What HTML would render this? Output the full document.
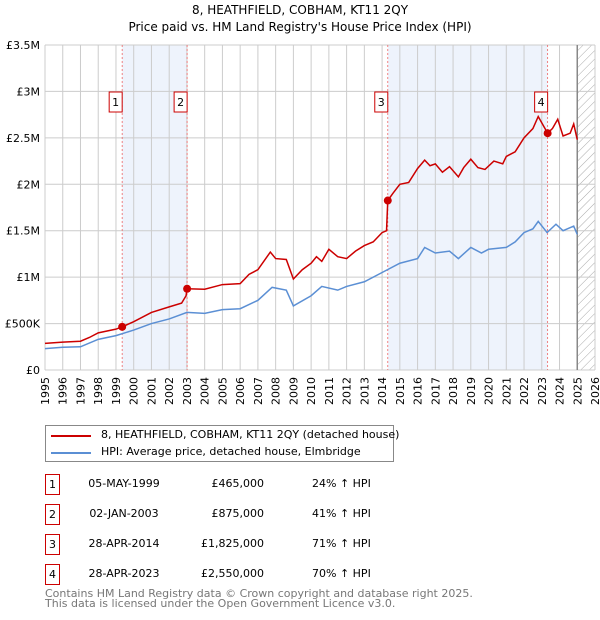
<!DOCTYPE html>
<html><head><meta charset="utf-8"><style>
body{margin:0;width:600px;height:620px;background:#fff;font-family:"DejaVu Sans","Liberation Sans",sans-serif;overflow:hidden;position:relative}
.t{position:absolute;font-size:11px;color:#000;white-space:nowrap}
.box{position:absolute;width:13px;height:19px;border:1px solid #c00;font-size:11px;text-align:center;line-height:19px;background:#fff}
</style></head><body>
<svg id="chart" width="600" height="420" style="position:absolute;left:0;top:0" font-family="DejaVu Sans, Liberation Sans, sans-serif">
<text x="300" y="14" text-anchor="middle" font-size="12">8, HEATHFIELD, COBHAM, KT11 2QY</text>
<text x="300" y="31" text-anchor="middle" font-size="12">Price paid vs. HM Land Registry's House Price Index (HPI)</text>
<g id="g"></g>
</svg>
<div style="position:absolute;left:45px;top:425px;width:347px;height:35px;border:1px solid #888;">
<div style="position:absolute;left:5px;top:9px;width:40px;height:2px;background:#c00"></div>
<div class="t" style="left:55px;top:2px">8, HEATHFIELD, COBHAM, KT11 2QY (detached house)</div>
<div style="position:absolute;left:5px;top:26px;width:40px;height:2px;background:#5b8fd4"></div>
<div class="t" style="left:55px;top:19px">HPI: Average price, detached house, Elmbridge</div>
</div>
<div id="tbl"></div>
<div class="t" style="left:45px;top:589px;color:#777;font-size:11px;line-height:10px">Contains HM Land Registry data © Crown copyright and database right 2025.<br>This data is licensed under the Open Government Licence v3.0.</div>
<script>
const redT=[1995,1996,1997,1997.5,1998,1999,1999.35,2000,2001,2002,2002.7,2002.95,2003.01,2004,2005,2006,2006.5,2007,2007.7,2008,2008.6,2009,2009.5,2010,2010.3,2010.6,2011,2011.5,2012,2012.5,2013,2013.5,2014,2014.25,2014.32,2014.6,2015,2015.5,2016,2016.4,2016.7,2017,2017.4,2017.8,2018.3,2018.6,2019,2019.4,2019.8,2020.3,2020.8,2021,2021.5,2022,2022.5,2022.8,2023.33,2023.6,2023.9,2024.2,2024.6,2024.8,2025];
const redV=[0.287,0.30,0.31,0.35,0.40,0.44,0.465,0.52,0.62,0.68,0.72,0.80,0.875,0.87,0.92,0.93,1.03,1.08,1.27,1.20,1.19,0.98,1.08,1.15,1.22,1.17,1.30,1.22,1.20,1.28,1.34,1.38,1.48,1.50,1.825,1.90,2.00,2.02,2.17,2.26,2.20,2.22,2.13,2.19,2.08,2.18,2.27,2.18,2.16,2.25,2.22,2.30,2.35,2.50,2.60,2.73,2.55,2.60,2.70,2.52,2.55,2.65,2.48];
const hpiT=[1995,1996,1997,1998,1999,2000,2001,2002,2003,2004,2005,2006,2007,2007.8,2008.6,2009,2010,2010.6,2011.5,2012,2013,2014,2015,2016,2016.4,2017,2017.8,2018.3,2019,2019.6,2020,2021,2021.5,2022,2022.5,2022.8,2023.3,2023.8,2024.2,2024.8,2025];
const hpiV=[0.23,0.245,0.25,0.33,0.37,0.43,0.50,0.55,0.62,0.61,0.65,0.66,0.75,0.89,0.86,0.69,0.80,0.90,0.86,0.90,0.95,1.05,1.15,1.20,1.32,1.26,1.28,1.20,1.32,1.26,1.30,1.32,1.38,1.48,1.52,1.60,1.48,1.57,1.50,1.55,1.46];
const saleT=[1999.35,2003.01,2014.32,2023.33];
const saleV=[0.465,0.875,1.825,2.55];
const saleLabels=["1","2","3","4"];
const yTicks=[0,0.5,1,1.5,2,2.5,3,3.5];
const yLabels=["£0","£500K","£1M","£1.5M","£2M","£2.5M","£3M","£3.5M"];
const dates=["05-MAY-1999","02-JAN-2003","28-APR-2014","28-APR-2023"];
const prices=["£465,000","£875,000","£1,825,000","£2,550,000"];
const pcts=["24% ↑ HPI","41% ↑ HPI","71% ↑ HPI","70% ↑ HPI"];
const X0=45,X1=595,Y0=370,Y1=45;
const xs=t=>X0+(t-1995)/31*(X1-X0);
const ys=v=>Y0-v/3.5*(Y0-Y1);
const NS="http://www.w3.org/2000/svg";
const g=document.getElementById('g');
function mk(tag,a){const e=document.createElementNS(NS,tag);for(const k in a)e.setAttribute(k,a[k]);g.appendChild(e);return e;}
let e;
e=mk('rect',{x:xs(1999.35),y:Y1,width:xs(2003.01)-xs(1999.35),height:Y0-Y1,fill:'#eef3fc'});


e=mk('rect',{x:xs(2014.32),y:Y1,width:xs(2023.33)-xs(2014.32),height:Y0-Y1,fill:'#eef3fc'});


const defs=document.createElementNS(NS,'defs');defs.innerHTML='<pattern id="h" width="6" height="6" patternUnits="userSpaceOnUse" patternTransform="rotate(45)"><line x1="0" y1="0" x2="0" y2="6" stroke="#aaa" stroke-width="1"/></pattern>';g.appendChild(defs);
e=mk('rect',{x:xs(2025),y:Y1,width:X1-xs(2025),height:Y0-Y1,fill:'url(#h)'});


for(let yr=1995;yr<=2026;yr++){const gx=xs(yr);e=mk('line',{x1:gx,x2:gx,y1:Y1,y2:Y0,stroke:'#ccc'});


e=mk('text',{x:0,y:0,'text-anchor':'end','font-size':11,transform:`translate(${gx+4},377) rotate(-90)`});e.textContent=yr;

}
yTicks.forEach((v,i)=>{e=mk('line',{x1:X0,x2:X1,y1:ys(v),y2:ys(v),stroke:'#ccc'});


e=mk('text',{x:X0-5,y:ys(v)+4,'text-anchor':'end','font-size':11});e.textContent=yLabels[i];

});
e=mk('line',{x1:xs(2025),x2:xs(2025),y1:Y1,y2:Y0,stroke:'#888','stroke-width':1.5});


saleT.forEach((t,i)=>{e=mk('line',{x1:xs(t),x2:xs(t),y1:Y1,y2:Y0,stroke:'#e66','stroke-dasharray':'2,2','stroke-width':0.8});


const bx=xs(t)-10;
e=mk('rect',{x:bx-3,y:92,width:13,height:20,fill:'#fff',stroke:'#c00'});


e=mk('text',{x:bx+3.5,y:106,'text-anchor':'middle','font-size':11});e.textContent=saleLabels[i];

});
e=mk('polyline',{points:hpiT.map((t,i)=>xs(t)+','+ys(hpiV[i])).join(' '),fill:'none',stroke:'#5b8fd4','stroke-width':1.5});


e=mk('polyline',{points:redT.map((t,i)=>xs(t)+','+ys(redV[i])).join(' '),fill:'none',stroke:'#c00','stroke-width':1.5});


saleT.forEach((t,i)=>{e=mk('circle',{cx:xs(t),cy:ys(saleV[i]),r:4,fill:'#c00'});

});
const tbl=document.getElementById('tbl');
saleLabels.forEach((l,i)=>{const y=474+i*30;
tbl.insertAdjacentHTML('beforeend',`<div class="box" style="left:45px;top:${y}px">${l}</div><div class="t" style="left:84px;top:${y+3}px;width:80px;text-align:center">${dates[i]}</div><div class="t" style="left:180px;top:${y+3}px;width:84px;text-align:right">${prices[i]}</div><div class="t" style="left:312px;top:${y+3}px">${pcts[i]}</div>`);});
</script>
</body></html>
